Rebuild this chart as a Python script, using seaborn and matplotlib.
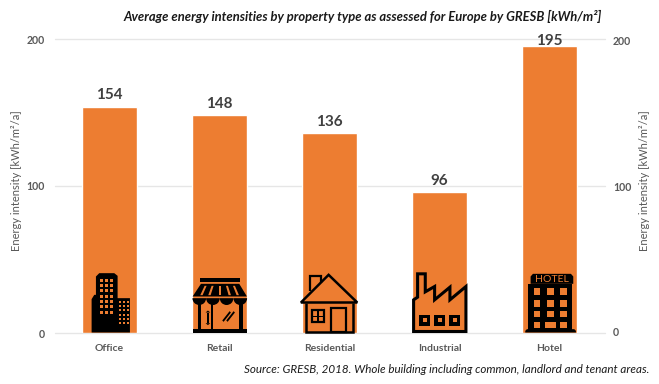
import matplotlib
matplotlib.use("Agg")
import matplotlib.pyplot as plt
import matplotlib.patches as mpatches
from matplotlib.transforms import Affine2D, IdentityTransform
import pandas as pd
import seaborn as sns

categories = ["Office", "Retail", "Residential", "Industrial", "Hotel"]
intensity = [154, 148, 136, 96, 195]
y_ticks = [0, 100, 200]

title = "Average energy intensities by property type as assessed for Europe by GRESB [kWh/m²]"
source = "Source: GRESB, 2018. Whole building including common, landlord and tenant areas."
y_label = "Energy intensity [kWh/m²/a]"

ORANGE = "#ED7D31"
GRID = "#E6E6E6"
GREY = "#595959"
DARK = "#404040"

W, H = 659, 384

sns.set_theme(style="white")
plt.rcParams["font.family"] = ["Lato", "DejaVu Sans"]

df = pd.DataFrame({"type": categories, "intensity": intensity})

fig = plt.figure(figsize=(W / 100, H / 100), dpi=100)
ax = fig.add_axes([54.6 / W, 1 - 333 / H, 550 / W, 294 / H])
sns.barplot(data=df, x="type", y="intensity", color=ORANGE, saturation=1, width=0.5, ax=ax, zorder=2)
ax.set_xlim(-0.5, 4.5)
ax.set_ylim(0, 200)
ax.set_xlabel("")
ax.set_ylabel("")
ax.set_yticks(y_ticks)
ax.yaxis.grid(True, color=GRID, lw=1, zorder=0)
for g in ax.get_ygridlines():
    g.set_clip_on(False)
ax.set_axisbelow(True)
sns.despine(ax=ax, left=True, bottom=True)
ax.tick_params(axis="both", length=0)
ax.tick_params(axis="x", pad=8, labelsize=7.5, labelcolor=GREY)
ax.tick_params(axis="y", pad=7, labelsize=7.6, labelcolor=GREY)
for t in ax.get_xticklabels() + ax.get_yticklabels():
    t.set_fontweight("bold")
for c in ax.containers:
    labels = ax.bar_label(c, fontsize=11, fontweight="bold", color=DARK, padding=3)
    # the hotel label sits tight on its bar in the original
    labels[-1].xyann = (0, -1.3)

# right hand axis sits a pixel off the left one in the original
ax2 = ax.twinx()
ax2.set_ylim(-0.69, 201.0)
ax2.set_yticks(y_ticks)
sns.despine(ax=ax2, left=True, bottom=True, right=True)
ax2.tick_params(axis="y", length=0, pad=6, labelsize=7.6, labelcolor=GREY)
for t in ax2.get_yticklabels():
    t.set_fontweight("bold")
ax2.grid(False)

fig.text(17 / W, 1 - 180.5 / H, y_label, rotation=90, ha="center", va="center", fontsize=8, color=GREY)
fig.text(644 / W, 1 - 180.5 / H, y_label, rotation=90, ha="center", va="center", fontsize=8, color=GREY)
fig.text(363 / W, 1 - 16 / H, title, ha="center", va="center", fontsize=9.4, fontweight="bold", fontstyle="italic", color="#1a1a1a")
fig.text(649 / W, 1 - 369.5 / H, source, ha="right", va="center", fontsize=8.4, fontstyle="italic", color="#1a1a1a")


# icons are sketched in units of 1/3 px, x from the bar centre, y down from the axis
def icon_helper(i):
    x0, y0 = ax.transData.transform((i, 0))
    tr = Affine2D().scale(1 / 3, -1 / 3).translate(x0, y0 + 0.5)

    def poly(pts, fc="black"):
        ax.add_patch(mpatches.Polygon(pts, closed=True, fc=fc, ec="none", transform=tr, zorder=3, clip_on=False))

    def rect(x1, y1, x2, y2, fc="black"):
        poly([(x1, y1), (x2, y1), (x2, y2), (x1, y2)], fc)

    def line(pts, lw=2.0, closed=False):
        ax.add_patch(mpatches.Polygon(pts, closed=closed, fc="none", ec="black", lw=lw, transform=tr, zorder=3,
                                      joinstyle="miter", clip_on=False))

    def scallop(x, y, r):
        ax.add_patch(mpatches.Wedge((x, y), r, 0, 180, fc="black", ec="none", transform=tr, zorder=3, clip_on=False))

    return poly, rect, line, scallop


# Office
poly, rect, line, scallop = icon_helper(0)
poly([(-54, 0), (-54, -100), (-46, -113), (-41, -113), (-41, -168), (-31, -178), (14, -178), (24, -170),
      (24, -103), (61, -103), (61, 0)])
for y in [-160, -145, -130, -114, -98, -82, -66]:
    for x in [-28, -14, 2]:
        rect(x, y, x + 9, y + 9, ORANGE)
for y in range(-96, -20, 13):
    for x in [29, 40, 51]:
        rect(x, y, x + 6, y + 6, ORANGE)

# Retail
poly, rect, line, scallop = icon_helper(1)
rect(-60, -163, 62, -153)
poly([(-56, -146), (59, -146), (82, -108), (-81, -108)])
poly([(-45, -140), (-39, -140), (-51, -112), (-58, -112)], ORANGE)
poly([(-24, -140), (-18, -140), (-27, -112), (-34, -112)], ORANGE)
rect(-2, -140, 3, -112, ORANGE)
poly([(19, -140), (25, -140), (34, -112), (27, -112)], ORANGE)
poly([(40, -140), (46, -140), (58, -112), (51, -112)], ORANGE)
for x in [-61, -20, 21, 62]:
    scallop(x, -103, 20.5)
rect(-66, -90, -56, 0)
rect(-26, -90, -19, 0)
rect(59, -90, 69, 0)
rect(-81, -10, 82, 0)
rect(-38, -58, -32, -28)
poly([(-42, -60), (-28, -60), (-35, -66)])
poly([(-42, -28), (-28, -28), (-35, -22)])
for dx in [0, 12]:
    poly([(8 + dx, -36), (12 + dx, -32), (34 + dx, -60), (30 + dx, -64)])

# Residential
poly, rect, line, scallop = icon_helper(2)
line([(-86, -90), (-3, -173), (83, -90)], closed=True, lw=1.8)
line([(-72, -90), (-72, -2), (70, -2), (70, -90)], lw=1.8)
line([(-58, -124), (-58, -171), (-27, -171), (-27, -150)], lw=1.6)
line([(-53, -67), (-17, -67), (-17, -31), (-53, -31)], closed=True, lw=1.6)
rect(-36.5, -67, -33, -31)
rect(-53, -50, -17, -47)
line([(3, -75), (48, -75), (48, -2), (3, -2)], closed=True, lw=1.6)

# Industrial
poly, rect, line, scallop = icon_helper(3)
line([(-78, -3), (-78, -98), (-66, -106), (-66, -176), (-43, -176), (-43, -122), (-15, -138), (-15, -98),
      (31, -136), (31, -98), (79, -138), (79, -3)], closed=True, lw=2.2)
for x in [-61, -16, 29]:
    rect(x, -53, x + 33, -21)
    rect(x + 11, -43, x + 22, -32, ORANGE)

# Hotel
poly, rect, line, scallop = icon_helper(4)
poly([(-50, -176), (64, -176), (71, -168), (71, -146), (-57, -146), (-57, -168)])
rect(-65, -146, 66, -8)
poly([(-68, -10), (74, -10), (79, -5), (79, 0), (-73, 0), (-73, -5)])
for x in [-48, -7, 31]:
    for y in [-133, -98, -66]:
        rect(x, y, x + 20, y + 20, ORANGE)
rect(-48, -33, -28, -13, ORANGE)
rect(-14, -33, 20, -13, ORANGE)
rect(31, -33, 51, -13, ORANGE)
x0, y0 = ax.transData.transform((4, 0))
ax.text(x0 + 2, y0 + 53, "HOTEL", transform=IdentityTransform(), ha="center", va="center", fontsize=7.5, color=ORANGE, zorder=4)

fig.savefig("out.png", dpi=100)
